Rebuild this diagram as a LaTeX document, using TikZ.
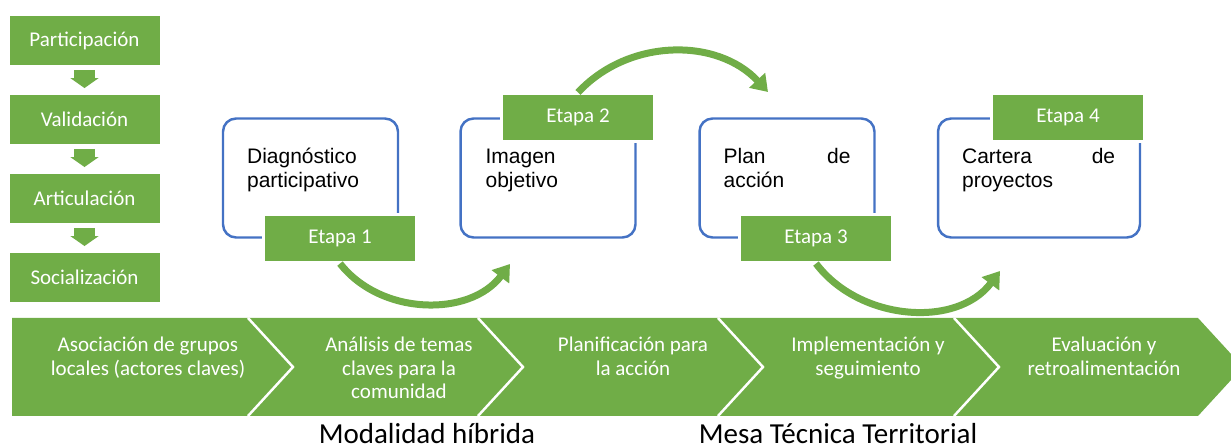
\documentclass[tikz,border=0pt]{standalone}
\usepackage{fontspec}
\setmainfont{Carlito}
\newfontfamily\arialfont{Liberation Sans}
\usepackage{xcolor}
\usepackage{tikz}
\usetikzlibrary{arrows.meta,positioning,calc}
\definecolor{stepgreen}{RGB}{112,173,71}
\definecolor{stageblue}{RGB}{68,114,196}
\hyphenpenalty=10000
\exhyphenpenalty=10000

\begin{document}
\begin{tikzpicture}[x=0.02cm, y=0.02cm, >={Triangle[width=0.42cm,length=0.32cm]}, node distance=1.58cm,
    greenbox/.style={fill=stepgreen, draw=white, line width=0.5pt, text=white, minimum width=3.02cm, minimum height=1cm, font=\fontsize{11.95}{13.1}\selectfont},
    downarrow/.style={draw=stepgreen, line width=0.44cm, shorten <=0.08cm, shorten >=0.12cm, -{Triangle[width=0.56cm,length=0.2cm]}},
    stagebox/.style={draw=stageblue, line width=1.4pt, rounded corners=0.26cm, fill=white, minimum width=3.5cm, minimum height=2.38cm},
    etapa/.style={fill=stepgreen, draw=white, line width=1.2pt, text=white, minimum width=3.06cm, minimum height=0.96cm, font=\fontsize{11.95}{13.1}\selectfont},
    stagetext/.style={anchor=base west, inner sep=0pt, align=justify, text width=2.54cm, font=\arialfont\fontsize{11.95}{13.7}\selectfont},
    steptext/.style={anchor=base, inner sep=0pt, align=flush center, text width=4.2cm, text=white, font=\fontsize{11.95}{13.1}\selectfont},
    caption/.style={anchor=base, inner sep=0pt, font=\fontsize{16.5}{18}\selectfont},
    flow/.style={->, draw=stepgreen, line width=0.14cm}]

    \useasboundingbox (0,0) rectangle (1231,-448);

    % === Left column ===
    \node[greenbox] (part) at (84.5,-40.5) {Participación};
    \node[greenbox, below of=part] (valid) {Validación};
    \node[greenbox, below of=valid] (artic) {Articulación};
    \node[greenbox, below of=artic] (social) {Socialización};
    \draw[downarrow] (part) -- (valid);
    \draw[downarrow] (valid) -- (artic);
    \draw[downarrow] (artic) -- (social);

    % === Stages ===
    \node[stagebox] (diag) at (310.5,-178) {};
    \node[stagebox] (imagen) at (548,-178) {};
    \node[stagebox] (plan) at (787,-178) {};
    \node[stagebox, minimum width=4.04cm] (cartera) at (1039,-178) {};

    \node[stagetext] (diagtxt) at ($(diag.north west)+(25,-46)$) {Diagnóstico participativo};
    \node[stagetext] (imagentxt) at ($(imagen.north west)+(26,-46)$) {Imagen objetivo};
    \node[stagetext] (plantxt) at ($(plan.north west)+(25,-46)$) {Plan de acción};
    \node[stagetext, text width=3.06cm] (carteratxt) at ($(cartera.north west)+(25,-46)$) {Cartera de proyectos};

    % Etapa labels
    \node[etapa] (e1) at ($(diag)+(29.5,-60.5)$) {Etapa 1};
    \node[etapa] (e2) at ($(imagen)+(30,60.5)$) {Etapa 2};
    \node[etapa] (e3) at ($(plan)+(29,-60.5)$) {Etapa 3};
    \node[etapa] (e4) at ($(cartera)+(29,60.5)$) {Etapa 4};

    % Curved arrows
    \coordinate (tip1) at (510,-264);
    \coordinate (tip2) at (768,-92);
    \coordinate (tip3) at (1000,-271);
    \draw[flow] (e1.south) to[out=-52, in=-127] (tip1);
    \draw[flow] (e2.north) to[out=47, in=133] (tip2);
    \draw[flow] (e3.south) to[out=-53, in=-127] (tip3);

    % === Process chevrons ===
    \fill[stepgreen] (12,-318) -- (1198,-318) -- (1243,-367) -- (1198,-416) -- (12,-416) -- cycle;
    \draw[white, line width=1.4pt] (248,-318) -- (293,-367) -- (248,-416);
    \draw[white, line width=1.4pt] (478,-318) -- (523,-367) -- (478,-416);
    \draw[white, line width=1.4pt] (718,-318) -- (763,-367) -- (718,-416);
    \draw[white, line width=1.4pt] (954,-318) -- (999,-367) -- (954,-416);

    \node[steptext] (s1) at (148,-352) {Asociación de grupos\\locales (actores claves)};
    \node[steptext] (s2) at (399,-352) {Análisis de temas\\claves para la\\comunidad};
    \node[steptext] (s3) at (633,-352) {Planificación para\\la acción};
    \node[steptext] (s4) at (868,-352) {Implementación y\\seguimiento};
    \node[steptext] (s5) at (1104,-352) {Evaluación y\\retroalimentación};

    % Bottom labels
    \node[caption] (hibrida) at (427,-444) {Modalidad híbrida};
    \node[caption] (mesa) at (838,-444) {Mesa Técnica Territorial};

\end{tikzpicture}
\end{document}
